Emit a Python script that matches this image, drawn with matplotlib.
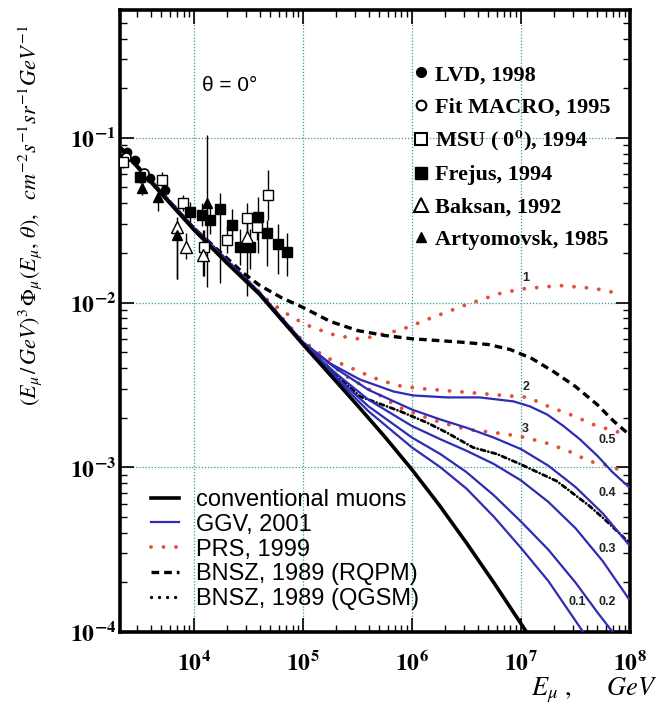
import numpy as np
import matplotlib
matplotlib.use('Agg')
import matplotlib.pyplot as plt
from matplotlib.lines import Line2D
from matplotlib.ticker import LogLocator, FuncFormatter, NullFormatter

plt.rcParams['mathtext.fontset'] = 'stix'
plt.rcParams['font.family'] = 'Liberation Serif'

# curves, log10(E/GeV) and log10(flux)
conv_lx = [3.32, 3.7, 4.0, 4.3, 4.6, 5.0, 5.25, 5.5, 5.75, 6.0, 6.25, 6.5, 6.75, 7.05]
conv_ly = [-1.06, -1.34, -1.56, -1.76, -1.95, -2.255, -2.44, -2.625, -2.815, -3.015, -3.23, -3.46, -3.70, -4.0]

low_lx = [3.32, 4.0, 4.6]
low_ly = [-1.055, -1.55, -1.94]

ggv_05_lx = low_lx + [5.0, 5.25, 5.52, 5.83, 6.01, 6.32, 6.62, 6.93, 7.08, 7.24, 7.39, 7.54, 7.7, 7.84, 7.99]
ggv_05_ly = low_ly + [-2.24, -2.37, -2.467, -2.54, -2.564, -2.576, -2.576, -2.6, -2.63, -2.68, -2.75, -2.83, -2.93, -3.03, -3.12]
ggv_04_lx = low_lx + [5.0, 5.3, 5.6, 6.0, 6.26, 6.5, 6.75, 7.0, 7.25, 7.5, 7.75, 7.99]
ggv_04_ly = low_ly + [-2.245, -2.4, -2.53, -2.65, -2.71, -2.76, -2.82, -2.89, -2.99, -3.12, -3.28, -3.47]
ggv_03_lx = low_lx + [5.0, 5.3, 5.6, 6.0, 6.26, 6.5, 6.75, 7.0, 7.25, 7.5, 7.75, 7.99]
ggv_03_ly = low_ly + [-2.25, -2.43, -2.59, -2.75, -2.83, -2.9, -2.98, -3.08, -3.21, -3.37, -3.57, -3.8]
ggv_02_lx = low_lx + [5.0, 5.3, 5.6, 6.0, 6.26, 6.5, 6.75, 7.0, 7.25, 7.5, 7.7, 7.84]
ggv_02_ly = low_ly + [-2.25, -2.45, -2.63, -2.82, -2.92, -3.03, -3.17, -3.33, -3.5, -3.7, -3.88, -4.0]
ggv_01_lx = low_lx + [5.0, 5.3, 5.6, 6.0, 6.26, 6.5, 6.75, 7.0, 7.25, 7.57]
ggv_01_ly = low_ly + [-2.25, -2.46, -2.66, -2.88, -3.0, -3.13, -3.3, -3.49, -3.69, -4.0]

prs_1_lx = low_lx + [4.7, 4.9, 5.08, 5.3, 5.5, 5.62, 5.9, 6.21, 6.51, 6.83, 7.04, 7.36, 7.68, 7.93]
prs_1_ly = low_ly + [-2.0, -2.09, -2.15, -2.2, -2.22, -2.21, -2.165, -2.085, -2.01, -1.94, -1.915, -1.897, -1.915, -1.95]
prs_2_lx = low_lx + [5.0, 5.2, 5.43, 5.64, 5.86, 6.06, 6.28, 6.5, 6.73, 6.95, 7.06, 7.25, 7.47, 7.68, 7.91, 7.98]
prs_2_ly = low_ly + [-2.235, -2.33, -2.394, -2.455, -2.503, -2.521, -2.533, -2.545, -2.558, -2.57, -2.575, -2.63, -2.685, -2.745, -2.79, -2.80]
prs_3_lx = low_lx + [5.0, 5.4, 5.77, 5.86, 6.05, 6.26, 6.5, 6.74, 6.99, 7.22, 7.43, 7.63, 7.84, 7.95]
prs_3_ly = low_ly + [-2.245, -2.45, -2.588, -2.63, -2.68, -2.727, -2.77, -2.788, -2.812, -2.85, -2.9, -2.964, -2.995, -3.036]

rqpm_lx = [3.32, 4.0, 4.3, 4.45, 4.6, 4.8, 5.0, 5.25, 5.5, 5.75, 6.0, 6.44, 6.7, 6.9, 7.1, 7.3, 7.5, 7.7, 7.85, 7.99]
rqpm_ly = [-1.055, -1.55, -1.73, -1.82, -1.895, -1.97, -2.03, -2.115, -2.17, -2.2, -2.22, -2.24, -2.255,
           -2.285, -2.34, -2.42, -2.51, -2.62, -2.72, -2.80]
qgsm_lx = low_lx + [5.0, 5.52, 5.89, 6.14, 6.32, 6.56, 6.78, 6.99, 7.33, 7.63, 7.79, 7.98]
qgsm_ly = low_ly + [-2.25, -2.57, -2.66, -2.73, -2.79, -2.88, -2.92, -2.98, -3.085, -3.236, -3.33, -3.45]

# measurements: E [GeV], flux, lower and upper end of error bar
msu_e = [2230, 5080, 7930, 12400, 20100, 30600, 37800, 47700]
msu_f = [0.0716, 0.0556, 0.0404, 0.0218, 0.0241, 0.0327, 0.0289, 0.0452]
msu_lo = [0.066, 0.050, 0.036, 0.0144, 0.020, 0.026, 0.024, 0.0318]
msu_hi = [0.078, 0.062, 0.045, 0.0277, 0.029, 0.040, 0.034, 0.0640]

frejus_e = [3200, 9190, 11800, 14000, 17300, 22300, 26400, 32700, 38600, 46800, 59000, 71300]
frejus_f = [0.0581, 0.0356, 0.0341, 0.0318, 0.0372, 0.0297, 0.0218, 0.0218, 0.0332, 0.0265, 0.0228, 0.0204]
frejus_lo = [0.053, 0.031, 0.029, 0.026, 0.0132, 0.024, 0.017, 0.016, 0.0200, 0.0166, 0.0150, 0.0144]
frejus_hi = [0.064, 0.041, 0.040, 0.038, 0.0465, 0.037, 0.028, 0.028, 0.0439, 0.0318, 0.0300, 0.0265]

baksan_e = [6980, 8450, 12100, 30600]
baksan_f = [0.0289, 0.0218, 0.0195, 0.0251]
baksan_lo = [0.0138, 0.0183, 0.0144, 0.0109]
baksan_hi = [0.0332, 0.0265, 0.0277, 0.0318]

artyom_e = [3340, 4680, 6980, 13200]
artyom_f = [0.0497, 0.0439, 0.0258, 0.0404]
artyom_lo = [0.045, 0.036, 0.0138, 0.0125]
artyom_hi = [0.055, 0.050, 0.0300, 0.1040]

lvd_e = [2430, 2880, 3950, 5420]
lvd_f = [0.0822, 0.0736, 0.0573, 0.0484]
macro_e = [2350, 3500]
macro_f = [0.076, 0.061]

curve_tags = ['1', '2', '3', '0.5', '0.4', '0.3', '0.1', '0.2']
tag_lx = [7.04, 7.05, 7.04, 7.79, 7.79, 7.79, 7.52, 7.79]
tag_ly = [-1.85, -2.515, -2.77, -2.836, -3.158, -3.497, -3.818, -3.818]


def lg(v):
    return np.power(10.0, v)


blue = '#2c2cb4'
red = '#e4503e'

fig = plt.figure(figsize=(6.69, 7.07), dpi=100)
ax = fig.add_axes([0.1794, 0.1061, 0.7623, 0.8798])
ax.set_xscale('log')
ax.set_yscale('log')

ax.plot(lg(np.array(conv_lx)), lg(np.array(conv_ly)), color='black', lw=2.6, zorder=5)
for lx, ly in [(ggv_05_lx, ggv_05_ly), (ggv_04_lx, ggv_04_ly), (ggv_03_lx, ggv_03_ly),
               (ggv_02_lx, ggv_02_ly), (ggv_01_lx, ggv_01_ly)]:
    ax.plot(lg(np.array(lx)), lg(np.array(ly)), color=blue, lw=1.6, zorder=4)
for lx, ly in [(prs_1_lx, prs_1_ly), (prs_2_lx, prs_2_ly), (prs_3_lx, prs_3_ly)]:
    ax.plot(lg(np.array(lx)), lg(np.array(ly)), color=red, lw=2.8,
            linestyle=(0, (0.01, 3.2)), dash_capstyle='round', zorder=3)
ax.plot(lg(np.array(rqpm_lx)), lg(np.array(rqpm_ly)), color='black', lw=2.4,
        linestyle=(0, (2.3, 1.5)), zorder=3)
ax.plot(lg(np.array(qgsm_lx)), lg(np.array(qgsm_ly)), color='black', lw=2.0,
        linestyle=(0, (1.6, 1.2, 0.01, 1.2)), dash_capstyle='round', zorder=3)


# data with error bars
def errs(f, lo, hi):
    f = np.array(f)
    return [f - np.array(lo), np.array(hi) - f]


ax.errorbar(msu_e, msu_f, yerr=errs(msu_f, msu_lo, msu_hi), fmt='s', mfc='white', mec='black',
            ms=7.5, mew=1.0, ecolor='black', elinewidth=1.0, zorder=6)
ax.errorbar(frejus_e, frejus_f, yerr=errs(frejus_f, frejus_lo, frejus_hi), fmt='s', color='black',
            ms=7, ecolor='black', elinewidth=1.0, zorder=6)
ax.errorbar(baksan_e, baksan_f, yerr=errs(baksan_f, baksan_lo, baksan_hi), fmt='^', mfc='white',
            mec='black', ms=8, mew=1.0, ecolor='black', elinewidth=1.0, zorder=6)
ax.errorbar(artyom_e, artyom_f, yerr=errs(artyom_f, artyom_lo, artyom_hi), fmt='^', color='black',
            ms=6.5, ecolor='black', elinewidth=1.0, zorder=6)
ax.plot(lvd_e, lvd_f, 'o', color='black', ms=6, zorder=6)
ax.plot(macro_e, macro_f, 'o', mfc='white', mec='black', ms=6.5, mew=1.2, zorder=6)

for t, lx, ly in zip(curve_tags, tag_lx, tag_ly):
    ax.text(lg(lx), lg(ly), t, fontsize=9, fontweight='bold', family='Liberation Sans',
            color='#222222', ha='center', va='center', zorder=7)

ax.text(lg(4.07), lg(-0.68), 'θ = 0°', fontsize=15, family='Liberation Sans', ha='left', va='center')

ax.set_xlim(lg(3.32), 1e8)
ax.set_ylim(1e-4, lg(-0.224))
ax.xaxis.set_major_locator(LogLocator(base=10, numticks=20))
ax.yaxis.set_major_locator(LogLocator(base=10, numticks=20))
ax.xaxis.set_minor_locator(LogLocator(base=10, subs=np.arange(2, 10), numticks=20))
ax.yaxis.set_minor_locator(LogLocator(base=10, subs=np.arange(2, 10), numticks=20))
fmt = FuncFormatter(lambda v, p: r'$\mathbf{10^{%d}}$' % int(round(np.log10(v))))
ax.xaxis.set_major_formatter(fmt)
ax.yaxis.set_major_formatter(fmt)
ax.xaxis.set_minor_formatter(NullFormatter())
ax.yaxis.set_minor_formatter(NullFormatter())
ax.tick_params(which='both', direction='in', top=True, right=True, labelsize=17)
ax.tick_params(which='major', length=10, width=1.2)
ax.tick_params(which='minor', length=5, width=1.0)
ax.tick_params(axis='x', pad=14)
ax.tick_params(axis='y', pad=3)
for s in ax.spines.values():
    s.set_linewidth(2.6)
ax.grid(True, which='major', linestyle=(0, (1, 1.5)), color='#3a9a9a', lw=0.9)

# legends
h_data = [Line2D([], [], ls='none', marker='o', color='black', ms=7),
          Line2D([], [], ls='none', marker='o', mfc='white', mec='black', mew=1.5, ms=7),
          Line2D([], [], ls='none', marker='s', mfc='white', mec='black', mew=1.5, ms=9),
          Line2D([], [], ls='none', marker='s', color='black', ms=9),
          Line2D([], [], ls='none', marker='^', mfc='white', mec='black', mew=1.5, ms=10),
          Line2D([], [], ls='none', marker='^', color='black', ms=7)]
l_data = ['LVD, 1998', 'Fit MACRO, 1995', r'MSU ( 0$^{\mathbf{o}}$), 1994', 'Frejus, 1994',
          'Baksan, 1992', 'Artyomovsk, 1985']
leg1 = ax.legend(h_data, l_data, loc='upper left', bbox_to_anchor=(0.572, 0.912), frameon=False,
                 prop={'family': 'Liberation Serif', 'weight': 'bold', 'size': 16},
                 handlelength=0.8, handletextpad=0.25, labelspacing=0.52, borderpad=0, borderaxespad=0)
ax.add_artist(leg1)

h_mod = [Line2D([], [], color='black', lw=2.6),
         Line2D([], [], color=blue, lw=1.6),
         Line2D([], [], color=red, lw=2.8, ls=(0, (0.01, 3.2)), dash_capstyle='round'),
         Line2D([], [], color='black', lw=2.4, ls=(0, (2.3, 1.5))),
         Line2D([], [], color='black', lw=2.4, ls=(0, (0.01, 2.4)), dash_capstyle='round')]
l_mod = ['conventional muons', 'GGV, 2001', 'PRS, 1999', 'BNSZ, 1989 (RQPM)', 'BNSZ, 1989 (QGSM)']
leg2 = ax.legend(h_mod, l_mod, loc='lower left', bbox_to_anchor=(0.06, 0.035), frameon=False,
                 prop={'family': 'Liberation Sans', 'size': 17},
                 handlelength=1.2, handletextpad=0.72, labelspacing=0.12, borderpad=0, borderaxespad=0)

fig.text(30 / 669, 1 - 215 / 707,
         r'$(E_\mu\,/\,GeV)^3\,\Phi_\mu(E_\mu,\,\theta),\ \ cm^{-2}s^{-1}sr^{-1}GeV^{-1}$',
         rotation=90, ha='center', va='center', fontsize=16)
fig.text(657 / 669, 1 - 690 / 707, r'$E_\mu\ ,\ \ \ \ \ GeV$', ha='right', va='center', fontsize=19)

fig.savefig('out.png', dpi=100)
